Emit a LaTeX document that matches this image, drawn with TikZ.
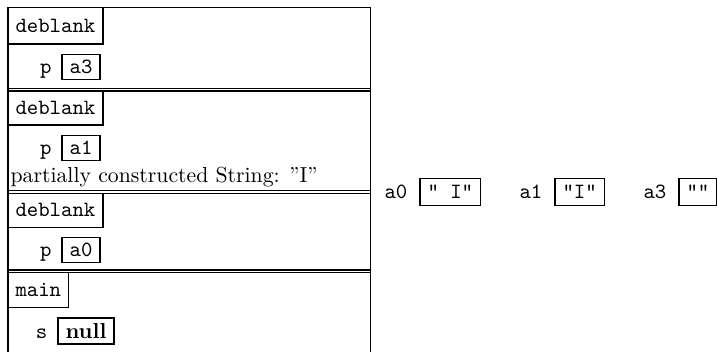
\documentclass[tikz,border=0pt]{standalone}
\begin{document}
\begin{tikzpicture}[x=0.46pt,y=-0.46pt, line width=0.6pt,
  hdr/.style={draw, anchor=north west, outer sep=0pt, inner xsep=3.45pt, inner ysep=0pt, font=\ttfamily},
  vbox/.style={draw, outer sep=0pt, inner xsep=3.45pt, inner ysep=0pt, minimum height=11.8pt, font=\ttfamily},
  lbl/.style={inner sep=0pt, font=\ttfamily, anchor=base east}]
\useasboundingbox (0,0) rectangle (717,352);
% frame border
\coordinate (tl) at (8,7.5);
\coordinate (tr) at (370.5,7.5);
\coordinate (bl) at (8,352);
\coordinate (br) at (370.5,352);
\draw (bl) -- (tl) -- (tr) -- (br);
% double separators
\foreach \y in {88.5,91, 190.7,193.3, 270,272.7}{
  \draw (8,\y) -- (370.5,\y);
}
% frame 1
\node[hdr, minimum height=16.8pt] (h1) at (8,7.5) {deblank};
\node[vbox] (v1) at (81,67) {a3};
\node[lbl] (p1) at ([xshift=-4.6pt]v1.base west) {p};
% frame 2
\node[hdr, minimum height=15.6pt] (h2) at (8,91) {deblank};
\node[vbox] (v2) at (81,148) {a1};
\node[lbl] (p2) at ([xshift=-4.6pt]v2.base west) {p};
\node[anchor=base west, inner sep=0pt] (txt) at (10,182) {partially constructed String: ”I”};
% frame 3
\node[hdr, minimum height=15.6pt] (h3) at (8,193.3) {deblank};
\node[vbox] (v3) at (81,250) {a0};
\node[lbl] (p3) at ([xshift=-4.6pt]v3.base west) {p};
% frame 4
\node[hdr, minimum height=16pt] (h4) at (8,272.7) {main};
\node[vbox, font=\rmfamily\bfseries, minimum height=12pt] (v4) at (86,331) {null};
\node[lbl] (p4) at ([xshift=-4.6pt]v4.base west) {s};
% heap objects
\node[vbox, anchor=west, minimum height=12.5pt] (o0) at (420,192) {" I"};
\node[lbl] (l0) at ([xshift=-5.5pt]o0.base west) {a0};
\node[vbox, anchor=west, minimum height=12.5pt] (o1) at (555,192) {"I"};
\node[lbl] (l1) at ([xshift=-5.5pt]o1.base west) {a1};
\node[vbox, anchor=west, minimum height=12.5pt] (o3) at (679,192) {""};
\node[lbl] (l3) at ([xshift=-5.5pt]o3.base west) {a3};
\end{tikzpicture}
\end{document}
